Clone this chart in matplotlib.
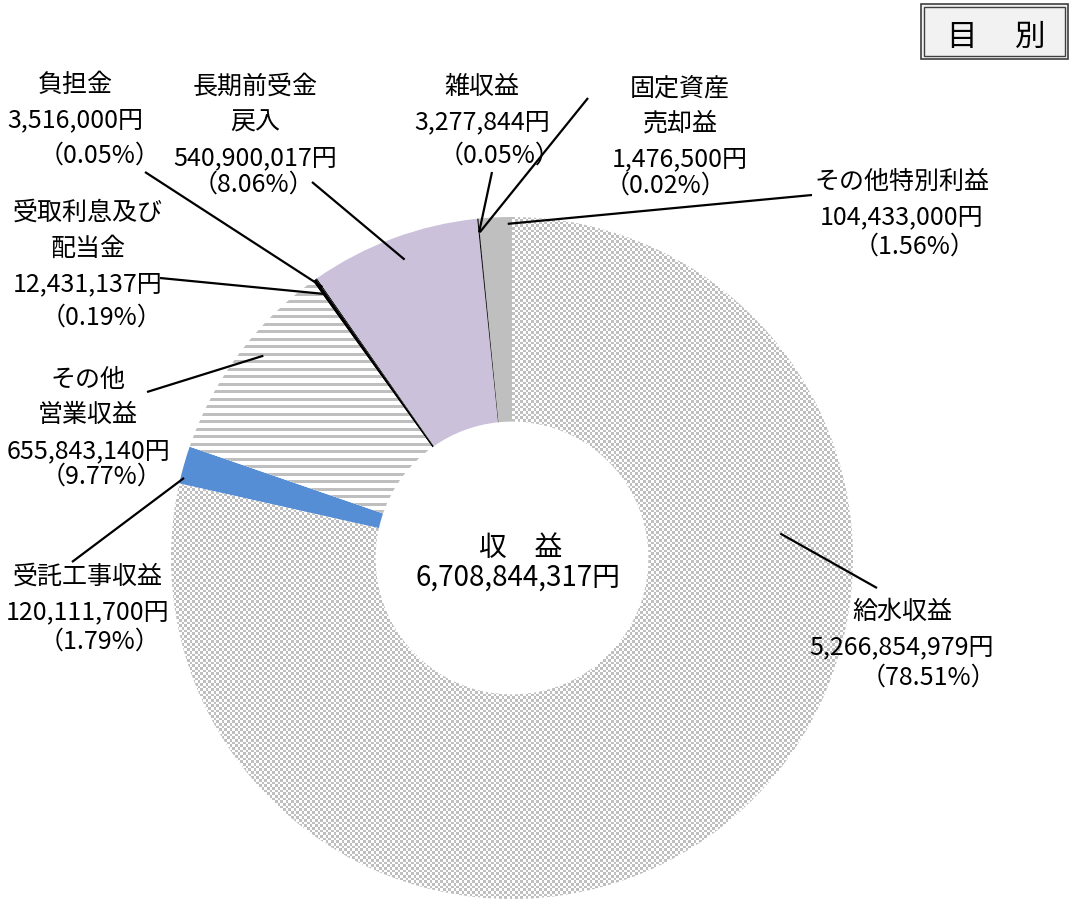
import numpy as np
import matplotlib
matplotlib.use("Agg")
import matplotlib.pyplot as plt
from matplotlib.patches import Rectangle

plt.rcParams['font.family'] = ['Noto Sans CJK JP', 'DejaVu Sans']

# データ（時計回り、12時の位置から）
names = ["給水収益", "受託工事収益", "その他\n営業収益", "受取利息及び\n配当金", "負担金",
         "長期前受金\n戻入", "雑収益", "固定資産\n売却益", "その他特別利益"]
amounts = [5266854979, 120111700, 655843140, 12431137, 3516000,
           540900017, 3277844, 1476500, 104433000]
percents = ["78.51", "1.79", "9.77", "0.19", "0.05", "8.06", "0.05", "0.02", "1.56"]
total_label = "収　益"

# 見た目
W, H = 1073, 900
fills = ["check", "#558ed5", "stripe", "black", "black", "#ccc1da", "black", "black", "#bfbfbf"]

# ラベル配置（画像座標: x中心, 1行目のy, %行のdy, %行のdx）
label_pos = [
    (902, 612, 30, 26),
    (88, 577, 29, 12),
    (88, 380, 26, 14),
    (88, 213, 34, 14),
    (75, 85, 35, 25),
    (255, 87, 27, -2),
    (482, 87, 33, 18),
    (680, 88, 27, -14),
    (902, 182, 29, 13),
]
# 引き出し線（テキスト側の端点, 扇形内の位置 t, 半径比）
leaders = [
    ((877, 588), 0.30, 0.79),
    ((72, 562), 0.17, 0.99),
    ((147, 392), 0.57, 0.94),
    ((160, 278), 0.5, 0.95),
    ((145, 172), 0.5, 0.97),
    ((312, 182), 0.52, 0.93),
    ((492, 172), 0.5, 0.96),
    ((588, 98), 0.5, 0.96),
    ((812, 195), 0.87, 0.98),
]


def Y(y):
    return H - y


fig = plt.figure(figsize=(W / 100, H / 100), dpi=100)
ax = fig.add_axes([0, 0, 1, 1])

R = 341
cx, cy = 512, Y(558)
face = ["white" if f in ("check", "stripe") else f for f in fills]
wedges, _ = ax.pie(amounts, colors=face, startangle=90, counterclock=False,
                   radius=R, center=(cx, cy),
                   wedgeprops=dict(width=R * 0.6, linewidth=0))
ax.set_xlim(0, W)
ax.set_ylim(0, H)
ax.set_aspect('equal')
ax.axis('off')

# テクスチャ（チェック柄・横縞）
ix = (np.arange(W) * 3) // 8
iy = (np.arange(H) * 3) // 8
check = ((ix[None, :] + iy[:, None]) % 2).astype(bool)
stripe = np.repeat(((2 * np.arange(H)) % 15 < 6)[:, None], W, axis=1)
for key, mask in (("check", check), ("stripe", stripe)):
    img = np.ones((H, W, 3))
    img[mask] = 0.75
    for w, f in zip(wedges, fills):
        if f == key:
            im = ax.imshow(img, extent=(0, W, 0, H), origin='upper',
                           interpolation='nearest', zorder=1.5)
            im.set_clip_path(w)
ax.set_xlim(0, W)
ax.set_ylim(0, H)

# ラベル
fs = 18
for i, (name, amt, pct) in enumerate(zip(names, amounts, percents)):
    x, y0, pdy, pdx = label_pos[i]
    y = y0
    for line in name.split("\n"):
        ax.text(x, Y(y), line, ha='center', va='center', fontsize=fs, zorder=5)
        y += 35.5
    ax.text(x, Y(y), f"{amt:,}円", ha='center', va='center', fontsize=fs, zorder=5)
    y += pdy
    ax.text(x + pdx, Y(y), f"（{pct}%）", ha='center', va='center', fontsize=fs, zorder=5)

# 引き出し線
for w, (p, t, rr) in zip(wedges, leaders):
    th = np.deg2rad(w.theta2 - t * (w.theta2 - w.theta1))
    ex, ey = cx + rr * R * np.cos(th), cy + rr * R * np.sin(th)
    ax.plot([p[0], ex], [Y(p[1]), ey], color='black', lw=1.6, zorder=4,
            solid_capstyle='butt')

# 中央
ax.text(cx + 9, Y(548), total_label, ha='center', va='center', fontsize=20, zorder=5)
ax.text(cx + 6, Y(578), f"{sum(amounts):,}円", ha='center', va='center', fontsize=20, zorder=5)

# 右上の見出しボックス
ax.add_patch(Rectangle((921, Y(59)), 147, 55, facecolor='#f2f2f2',
                       edgecolor='#404040', lw=1.2, zorder=5))
ax.add_patch(Rectangle((924, Y(56)), 141, 49, facecolor='none',
                       edgecolor='#404040', lw=1.0, zorder=5))
ax.text(961, Y(37), "目", ha='center', va='center', fontsize=22, zorder=6)
ax.text(1030, Y(37), "別", ha='center', va='center', fontsize=22, zorder=6)

fig.savefig("out.png", dpi=100)
